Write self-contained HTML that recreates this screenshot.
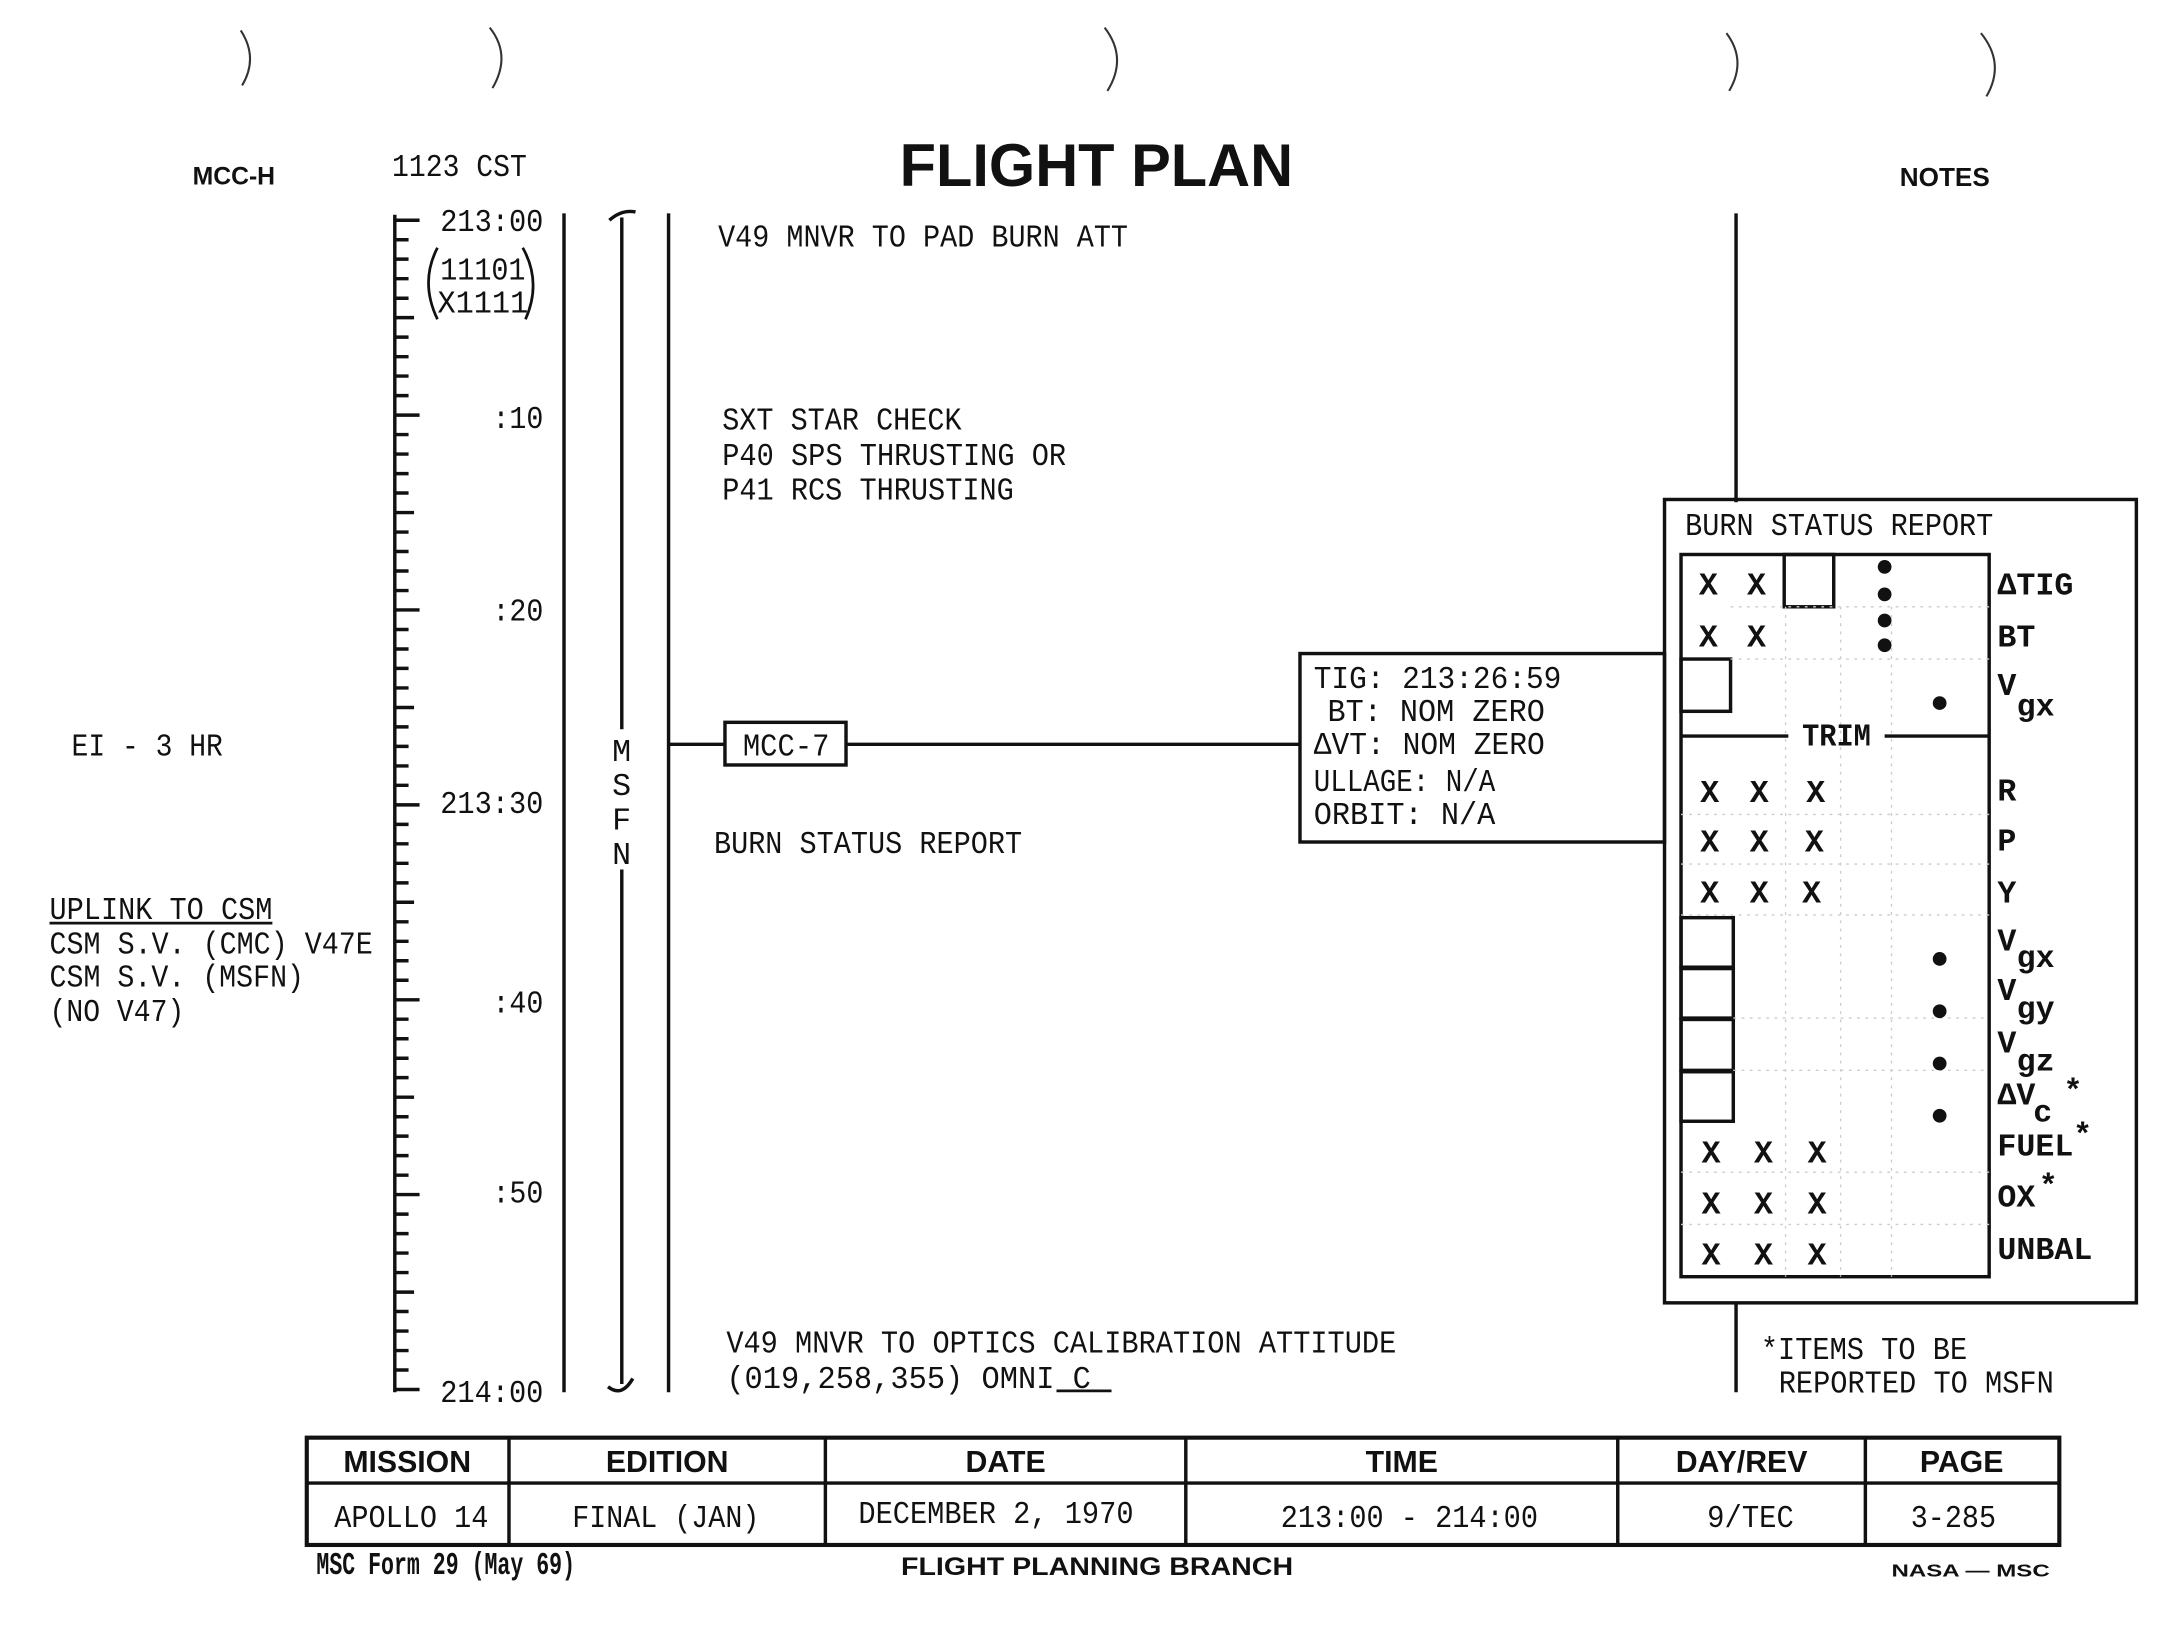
<!DOCTYPE html>
<html><head><meta charset="utf-8"><style>
html,body{margin:0;padding:0;background:#fff;}
svg{display:block;}
.m{font-family:"Liberation Mono",monospace;font-size:23px;fill:#111;}
.b{font-family:"Liberation Sans",sans-serif;font-weight:bold;fill:#111;}
</style></head><body>
<svg width="2157" height="1640" viewBox="0 0 1568 1192" xmlns="http://www.w3.org/2000/svg">
<rect width="1568" height="1192" fill="#fff"/>
<g fill="none" stroke="#333" stroke-width="1.5">
<path d="M175 22 Q188 42 176 62"/><path d="M356 20 Q372 40 358 64"/><path d="M803 20 Q820 42 805 66"/><path d="M1255 24 Q1270 44 1257 66"/><path d="M1440 24 Q1458 46 1444 70"/>
</g>
<text x="140" y="134" class="b" font-size="18">MCC-H</text>
<text x="285" y="128" class="m" textLength="98" lengthAdjust="spacingAndGlyphs">1123 CST</text>
<text x="654" y="135" class="b" font-size="44" textLength="286" lengthAdjust="spacingAndGlyphs">FLIGHT PLAN</text>
<text x="1381" y="135" class="b" font-size="19">NOTES</text>

<g stroke="#111" stroke-width="2.5" fill="none">
<line x1="287" y1="156" x2="287" y2="1012"/>
<path d="M287 160h18M287 174.2h10M287 188.3h10M287 202.5h10M287 216.7h10M287 230.8h14M287 245h10M287 259.2h10M287 273.3h10M287 287.5h10M287 301.7h18M287 315.8h10M287 330h10M287 344.2h10M287 358.3h10M287 372.5h14M287 386.7h10M287 400.8h10M287 415h10M287 429.2h10M287 443.3h18M287 457.5h10M287 471.7h10M287 485.8h10M287 500h10M287 514.2h14M287 528.3h10M287 542.5h10M287 556.7h10M287 570.8h10M287 585h18M287 599.2h10M287 613.3h10M287 627.5h10M287 641.7h10M287 655.8h14M287 670h10M287 684.2h10M287 698.3h10M287 712.5h10M287 726.7h18M287 740.8h10M287 755h10M287 769.2h10M287 783.3h10M287 797.5h14M287 811.7h10M287 825.8h10M287 840h10M287 854.2h10M287 868.3h18M287 882.5h10M287 896.7h10M287 910.8h10M287 925h10M287 939.2h14M287 953.3h10M287 967.5h10M287 981.7h10M287 995.8h10M287 1010h18"/>
<line x1="410" y1="155" x2="410" y2="1012"/>
<line x1="486" y1="155" x2="486" y2="1012"/>
<path d="M452 158 V530 M452 632 V1006 M443 160 Q452 152 462 154 M442 1008 Q452 1016 460 1002"/>
<line x1="1262" y1="155" x2="1262" y2="365"/>
<line x1="1262" y1="948" x2="1262" y2="1012"/>
</g>
<text x="320" y="168" class="m" textLength="75" lengthAdjust="spacingAndGlyphs">213:00</text>
<text x="320" y="203" class="m" textLength="62" lengthAdjust="spacingAndGlyphs">11101</text>
<text x="318" y="227" class="m" textLength="66" lengthAdjust="spacingAndGlyphs">X1111</text>
<path d="M318 180 Q305 205 318 232 M380 180 Q394 205 382 232" fill="none" stroke="#111" stroke-width="2"/>
<text x="358" y="311" class="m" textLength="37" lengthAdjust="spacingAndGlyphs">:10</text>
<text x="358" y="451" class="m" textLength="37" lengthAdjust="spacingAndGlyphs">:20</text>
<text x="320" y="591" class="m" textLength="75" lengthAdjust="spacingAndGlyphs">213:30</text>
<text x="358" y="736" class="m" textLength="37" lengthAdjust="spacingAndGlyphs">:40</text>
<text x="358" y="874" class="m" textLength="37" lengthAdjust="spacingAndGlyphs">:50</text>
<text x="320" y="1019" class="m" textLength="75" lengthAdjust="spacingAndGlyphs">214:00</text>
<text x="445" y="553" class="m">M</text><text x="445" y="578" class="m">S</text><text x="445" y="603" class="m">F</text><text x="445" y="628" class="m">N</text>

<text x="522" y="179" class="m" textLength="298" lengthAdjust="spacingAndGlyphs">V49 MNVR TO PAD BURN ATT</text>
<text x="525" y="312" class="m" textLength="174" lengthAdjust="spacingAndGlyphs">SXT STAR CHECK</text>
<text x="525" y="338" class="m" textLength="250" lengthAdjust="spacingAndGlyphs">P40 SPS THRUSTING OR</text>
<text x="525" y="363" class="m" textLength="212" lengthAdjust="spacingAndGlyphs">P41 RCS THRUSTING</text>
<rect x="527" y="525" width="88" height="31" fill="none" stroke="#111" stroke-width="2.5"/>
<text x="540" y="549" class="m" textLength="63" lengthAdjust="spacingAndGlyphs">MCC-7</text>
<line x1="486" y1="541" x2="527" y2="541" stroke="#111" stroke-width="2.5"/>
<line x1="615" y1="541" x2="945" y2="541" stroke="#111" stroke-width="2.5"/>
<text x="519" y="620" class="m" textLength="224" lengthAdjust="spacingAndGlyphs">BURN STATUS REPORT</text>
<text x="528" y="983" class="m" textLength="487" lengthAdjust="spacingAndGlyphs">V49 MNVR TO OPTICS CALIBRATION ATTITUDE</text>
<text x="528" y="1009" class="m" textLength="265" lengthAdjust="spacingAndGlyphs">(019,258,355)  OMNI C</text>
<line x1="768" y1="1011" x2="808" y2="1011" stroke="#111" stroke-width="2"/>

<text x="52" y="549" class="m" textLength="110" lengthAdjust="spacingAndGlyphs">EI - 3 HR</text>
<text x="36" y="668" class="m" textLength="162" lengthAdjust="spacingAndGlyphs">UPLINK TO CSM</text>
<line x1="36" y1="671" x2="198" y2="671" stroke="#111" stroke-width="2"/>
<text x="36" y="693" class="m" textLength="235" lengthAdjust="spacingAndGlyphs">CSM S.V. (CMC) V47E</text>
<text x="36" y="717" class="m" textLength="185" lengthAdjust="spacingAndGlyphs">CSM S.V. (MSFN)</text>
<text x="36" y="742" class="m" textLength="98" lengthAdjust="spacingAndGlyphs">(NO V47)</text>

<rect x="945" y="475" width="265" height="137" fill="none" stroke="#111" stroke-width="2.5"/>
<text x="955" y="500" class="m" textLength="180" lengthAdjust="spacingAndGlyphs">TIG: 213:26:59</text>
<text x="965" y="524" class="m" textLength="158" lengthAdjust="spacingAndGlyphs">BT: NOM ZERO</text>
<text x="955" y="548" class="m" textLength="168" lengthAdjust="spacingAndGlyphs">ΔVT: NOM ZERO</text>
<text x="955" y="575" class="m" textLength="132" lengthAdjust="spacingAndGlyphs">ULLAGE: N/A</text>
<text x="955" y="599" class="m" textLength="132" lengthAdjust="spacingAndGlyphs">ORBIT:  N/A</text>

<g fill="none" stroke="#111" stroke-width="2.5">
<rect x="1210" y="363" width="343" height="584"/>
<rect x="1222" y="403" width="224" height="525"/>
<rect x="1297" y="403" width="36" height="38"/>
<rect x="1222" y="479" width="36" height="38"/>
<rect x="1222" y="667" width="38" height="36"/>
<rect x="1222" y="704" width="38" height="36"/>
<rect x="1222" y="741" width="38" height="37"/>
<rect x="1222" y="779" width="38" height="36"/>
<line x1="1222" y1="535" x2="1300" y2="535"/><line x1="1370" y1="535" x2="1446" y2="535"/>
</g>
<g stroke="#ccc" stroke-width="1" stroke-dasharray="2 4">
<line x1="1258" y1="441" x2="1446" y2="441"/><line x1="1258" y1="479" x2="1446" y2="479"/>
<line x1="1222" y1="592" x2="1446" y2="592"/><line x1="1222" y1="628" x2="1446" y2="628"/><line x1="1222" y1="665" x2="1446" y2="665"/>
<line x1="1260" y1="740" x2="1446" y2="740"/><line x1="1260" y1="778" x2="1446" y2="778"/><line x1="1222" y1="852" x2="1446" y2="852"/><line x1="1222" y1="890" x2="1446" y2="890"/>
<line x1="1298" y1="441" x2="1298" y2="928"/><line x1="1338" y1="441" x2="1338" y2="928"/><line x1="1375" y1="441" x2="1375" y2="928"/>
</g>
<text x="1225" y="389" class="m" textLength="224" lengthAdjust="spacingAndGlyphs">BURN STATUS REPORT</text>
<g class="m" font-size="22" font-weight="bold">
<text x="1235" y="432">X</text><text x="1270" y="432">X</text>
<text x="1235" y="470">X</text><text x="1270" y="470">X</text>
<text x="1236" y="583">X</text><text x="1272" y="583">X</text><text x="1313" y="583">X</text>
<text x="1236" y="619">X</text><text x="1272" y="619">X</text><text x="1312" y="619">X</text>
<text x="1236" y="656">X</text><text x="1272" y="656">X</text><text x="1310" y="656">X</text>
<text x="1237" y="845">X</text><text x="1275" y="845">X</text><text x="1314" y="845">X</text>
<text x="1237" y="882">X</text><text x="1275" y="882">X</text><text x="1314" y="882">X</text>
<text x="1237" y="919">X</text><text x="1275" y="919">X</text><text x="1314" y="919">X</text>
</g>
<text x="1310" y="542" class="m" font-weight="bold" textLength="50" lengthAdjust="spacingAndGlyphs">TRIM</text>
<g fill="#111">
<circle cx="1370" cy="412" r="5"/><circle cx="1370" cy="432" r="5"/><circle cx="1370" cy="451" r="5"/><circle cx="1370" cy="469" r="5"/>
<circle cx="1410" cy="511" r="5"/><circle cx="1410" cy="697" r="5"/><circle cx="1410" cy="735" r="5"/><circle cx="1410" cy="773" r="5"/><circle cx="1410" cy="811" r="5"/>
</g>
<g class="m" font-weight="bold" font-size="21">
<text x="1452" y="432">ΔTIG</text>
<text x="1452" y="470">BT</text>
<text x="1452" y="505">V</text><text x="1466" y="520">gx</text>
<text x="1452" y="582">R</text>
<text x="1452" y="618">P</text>
<text x="1452" y="656">Y</text>
<text x="1452" y="691">V</text><text x="1466" y="703">gx</text>
<text x="1452" y="727">V</text><text x="1466" y="740">gy</text>
<text x="1452" y="765">V</text><text x="1466" y="778">gz</text>
<text x="1452" y="803">ΔV</text><text x="1478" y="815">c</text><text x="1500" y="800">*</text>
<text x="1452" y="840">FUEL</text><text x="1507" y="832">*</text>
<text x="1452" y="877">OX</text><text x="1482" y="869">*</text>
<text x="1452" y="915">UNBAL</text>
</g>
<text x="1280" y="988" class="m" textLength="150" lengthAdjust="spacingAndGlyphs">*ITEMS TO BE</text>
<text x="1293" y="1012" class="m" textLength="200" lengthAdjust="spacingAndGlyphs">REPORTED TO MSFN</text>

<g fill="none" stroke="#111">
<rect x="223" y="1045" width="1274" height="78" stroke-width="3"/>
<line x1="223" y1="1078" x2="1497" y2="1078" stroke-width="2.5"/>
<path d="M370 1045V1123M600 1045V1123M862 1045V1123M1176 1045V1123M1356 1045V1123" stroke-width="2.5"/>
</g>
<g class="b" font-size="22" text-anchor="middle">
<text x="296" y="1070">MISSION</text><text x="485" y="1070">EDITION</text><text x="731" y="1070">DATE</text><text x="1019" y="1070">TIME</text><text x="1266" y="1070">DAY/REV</text><text x="1426" y="1070">PAGE</text>
</g>
<g class="m">
<text x="243" y="1110" textLength="112" lengthAdjust="spacingAndGlyphs">APOLLO 14</text>
<text x="416" y="1110" textLength="136" lengthAdjust="spacingAndGlyphs">FINAL (JAN)</text>
<text x="624" y="1107" textLength="200" lengthAdjust="spacingAndGlyphs">DECEMBER 2, 1970</text>
<text x="931" y="1110" textLength="187" lengthAdjust="spacingAndGlyphs">213:00 - 214:00</text>
<text x="1241" y="1110" textLength="63" lengthAdjust="spacingAndGlyphs">9/TEC</text>
<text x="1389" y="1110" textLength="62" lengthAdjust="spacingAndGlyphs">3-285</text>
</g>
<text x="230" y="1144" class="m" font-size="14" font-weight="bold" textLength="188" lengthAdjust="spacingAndGlyphs">MSC Form 29 (May 69)</text>
<text x="655" y="1145" class="b" font-size="18" textLength="285" lengthAdjust="spacingAndGlyphs">FLIGHT PLANNING BRANCH</text>
<text x="1375" y="1146" class="b" font-size="13" textLength="115" lengthAdjust="spacingAndGlyphs">NASA — MSC</text>
</svg>
</body></html>
